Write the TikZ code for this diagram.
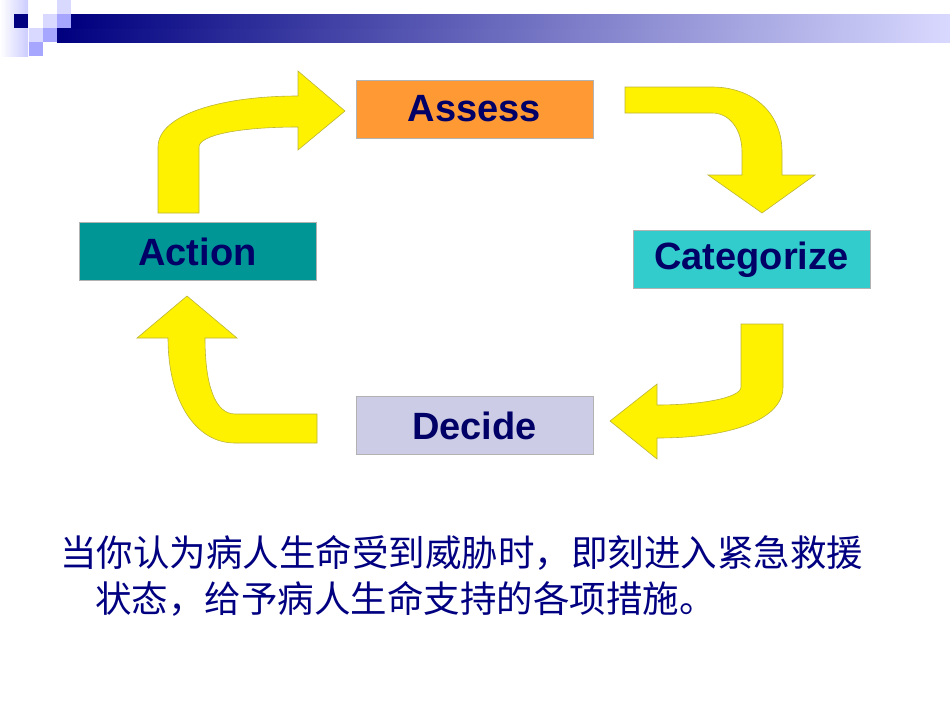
\documentclass[tikz,border=0pt]{standalone}
\usepackage{fontspec}
\setmainfont{Liberation Sans}
\newfontfamily\cjk{Noto Sans CJK SC}
\definecolor{tealbox}{RGB}{0,150,150}
\definecolor{catbox}{RGB}{51,204,204}
\definecolor{decbox}{RGB}{204,204,230}
\definecolor{assbox}{RGB}{255,153,51}
\definecolor{navytxt}{RGB}{0,0,102}
\begin{document}
\begin{tikzpicture}[x=1pt,y=-1pt,
  arr/.style={fill=yellow,draw=yellow!70!black,line width=0.6pt,line join=miter},
  box/.style={draw=gray!60,line width=0.5pt,minimum width=237pt,minimum height=58pt,inner sep=0pt,
    font=\fontsize{38}{42}\selectfont\bfseries,text=navytxt}]
\useasboundingbox (0,0) rectangle (950,713);
% header
\shade[left color=white,right color=blue!20] (0,0) rectangle (28,56);
\fill[blue!50!black] (14,14) rectangle (28,28);
\fill[blue!15] (43,14) rectangle (57,28);
\fill[blue!15] (57,0) rectangle (71,14);
\fill[blue!35] (57,14) rectangle (71,28);
\fill[blue!15] (29,28) rectangle (43,42);
\fill[blue!35] (43,28) rectangle (57,42);
\fill[blue!35] (29,42) rectangle (43,56);
\shade[left color=blue!50!black,right color=blue!15] (57,28) rectangle (950,42);
\shade[left color=blue!50!black,right color=blue!15] (71,14) rectangle (950,28);
% boxes
\node[box,fill=assbox] (assess) at (474.5,109) {Assess};
\node[box,fill=tealbox] (action) at (197.5,251.5) {Action};
\node[box,fill=catbox] (cat) at (751.5,259.5) {Categorize};
\node[box,fill=decbox] (decide) at (474.5,425.5) {Decide};
% arrows
\draw[arr] (625,87) -- (712,87) .. controls (752,87) and (782,112) .. (782,152) -- (782,175) -- (815,175)
  -- (762,213) -- (708,175) -- (742,175) -- (742,152) .. controls (742,130) and (730,113) .. (712,113) -- (625,113) -- cycle;
\draw[arr] (741,324) -- (783,324) -- (783,387) .. controls (783,420) and (730,438) .. (657,438) -- (657,459)
  -- (610,421) -- (657,384) -- (657,405) .. controls (700,405) and (741,398) .. (741,387) -- cycle;
\draw[arr] (317,414) -- (235,414) .. controls (215,414) and (205,385) .. (205,338) -- (237,338)
  -- (187,296) -- (137,338) -- (168,338) .. controls (168,400) and (195,443) .. (235,443) -- (317,443) -- cycle;
\draw[arr] (158,213) -- (158,147) .. controls (158,115) and (220,96) .. (298,96) -- (298,71)
  -- (345,111) -- (298,150) -- (298,127) .. controls (240,127) and (199,135) .. (199,147) -- (199,213) -- cycle;
% text
\node[anchor=west,inner sep=0pt,text=blue!50!black,font=\cjk\fontsize{36.5}{40}\selectfont] (t1) at (60,553) {当你认为病人生命受到威胁时，即刻进入紧急救援};
\node[anchor=west,inner sep=0pt,text=blue!50!black,font=\cjk\fontsize{36.5}{40}\selectfont] (t2) at (95,599) {状态，给予病人生命支持的各项措施。};
\end{tikzpicture}
\end{document}
